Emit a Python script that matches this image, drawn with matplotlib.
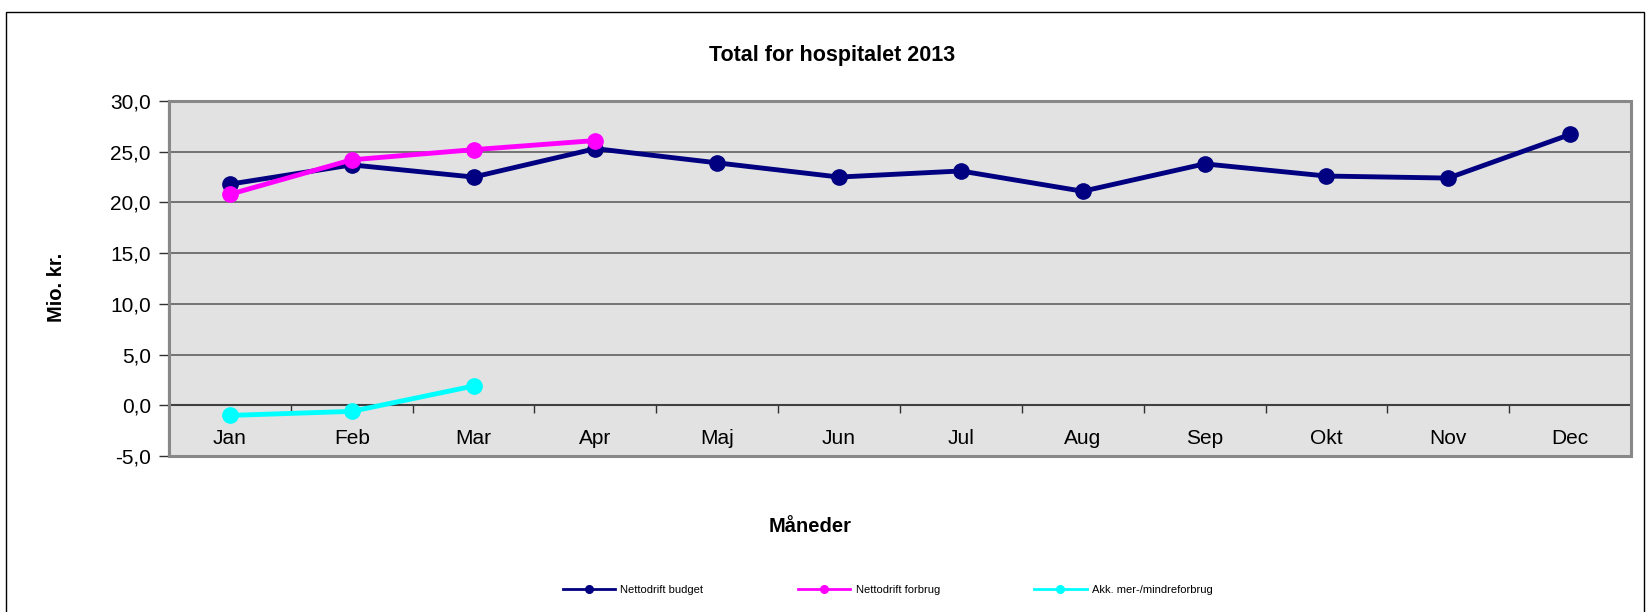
import numpy as np
import matplotlib
matplotlib.use('Agg')
import matplotlib.pyplot as plt
from matplotlib.patches import Rectangle
from matplotlib.ticker import FuncFormatter

# data (Mio. kr.)
months = ['Jan', 'Feb', 'Mar', 'Apr', 'Maj', 'Jun', 'Jul', 'Aug', 'Sep', 'Okt', 'Nov', 'Dec']
budget = [21.8, 23.7, 22.5, 25.3, 23.9, 22.5, 23.1, 21.1, 23.8, 22.6, 22.4, 26.7]
forbrug = [20.8, 24.2, 25.2, 26.1]
akk = [-1.0, -0.6, 1.9]

plt.rcParams['font.family'] = ['Liberation Sans', 'DejaVu Sans']

fig = plt.figure(figsize=(16.5, 6.12), dpi=100)
ax = fig.add_axes([0.1024, 0.2549, 0.8861, 0.5801])
ax.set_facecolor('#E2E2E2')

x = np.arange(len(months))
ax.plot(x, budget, color='#000080', lw=3.5, marker='o', ms=11, label='Nettodrift budget', zorder=3)
ax.plot(x[:len(forbrug)], forbrug, color='#FF00FF', lw=3.5, marker='o', ms=11, label='Nettodrift forbrug', zorder=4)
ax.plot(x[:len(akk)], akk, color='#00FFFF', lw=3.5, marker='o', ms=11, label='Akk. mer-/mindreforbrug', zorder=4)

ax.set_xlim(-0.5, 11.5)
ax.set_ylim(-5, 30)
ax.set_yticks(np.arange(-5, 31, 5))
ax.yaxis.set_major_formatter(FuncFormatter(lambda v, p: ('%.1f' % v).replace('.', ',')))
ax.yaxis.grid(True, color='#555555', lw=1.1)
ax.set_axisbelow(True)

# x axis crosses at 0, ticks between categories, labels at centres
ax.spines['bottom'].set_position(('data', 0))
ax.spines['bottom'].set_color('#404040')
ax.spines['bottom'].set_linewidth(1.5)
ax.spines['left'].set_color('#404040')
ax.spines['left'].set_linewidth(1.5)
ax.spines['top'].set_visible(False)
ax.spines['right'].set_visible(False)
ax.set_xticks(np.arange(0.5, 11, 1))
ax.set_xticklabels([])
ax.set_xticks(x, minor=True)
ax.set_xticklabels(months, minor=True)
ax.tick_params(axis='x', which='major', direction='out', length=6, width=1, color='#303030')
ax.tick_params(axis='x', which='minor', length=0, pad=17, labelsize=15)
ax.tick_params(axis='y', direction='out', length=7, width=1, color='#303030', labelsize=15, pad=6)

# plot area border
ax.add_patch(Rectangle((0, 0), 1, 1, transform=ax.transAxes, fill=False,
                       ec='#888888', lw=2.2, clip_on=False, zorder=5))

fig.text(0.504, 0.910, 'Total for hospitalet 2013', ha='center', va='center',
         fontsize=15.5, fontweight='bold')
fig.text(0.034, 0.53, 'Mio. kr.', ha='center', va='center', rotation=90,
         fontsize=14.5, fontweight='bold')
fig.text(0.491, 0.14, 'Måneder', ha='center', va='center', fontsize=14.5, fontweight='bold')

leg = fig.legend(loc='center', bbox_to_anchor=(0.538, 0.036), ncol=3, frameon=False,
                 fontsize=8, handlelength=4.7, handletextpad=0.5, columnspacing=8.5,
                 markerscale=0.5)
for h in leg.get_lines():
    h.set_linewidth(2)

# outer chart border
fig.add_artist(Rectangle((6 / 1650, -0.01), 1638 / 1650, 1 - 12 / 612 + 0.01, transform=fig.transFigure,
                         fill=False, ec='black', lw=1))

fig.savefig('out.png', dpi=100)
